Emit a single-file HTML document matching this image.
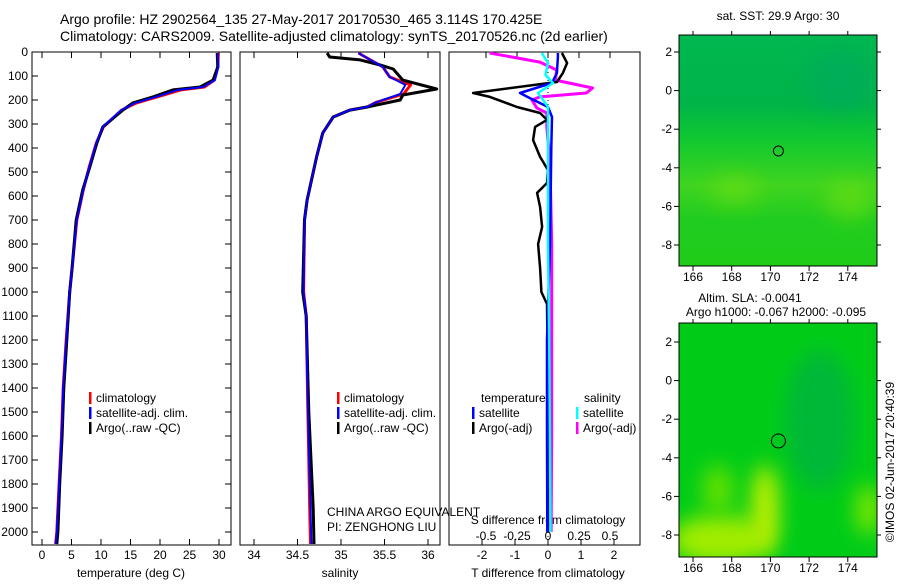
<!DOCTYPE html>
<html><head><meta charset="utf-8"><style>
body{margin:0;background:#fff}
svg text{font-family:"Liberation Sans",sans-serif;font-size:12px;fill:#000}
</style></head><body>
<svg id="c" width="900" height="580" viewBox="0 0 900 580" xmlns="http://www.w3.org/2000/svg">
<defs>
<linearGradient id="sstg" x1="0" y1="0" x2="0" y2="1">
<stop offset="0" stop-color="#00b850"/><stop offset="0.3" stop-color="#00b448"/><stop offset="0.45" stop-color="#10c830"/><stop offset="0.65" stop-color="#40d420"/><stop offset="0.8" stop-color="#20cc20"/><stop offset="1" stop-color="#20cc18"/></linearGradient>
<filter id="bl" x="-100%" y="-100%" width="300%" height="300%"><feGaussianBlur stdDeviation="10"/></filter>
<clipPath id="m1"><rect x="679" y="35" width="198" height="231"/></clipPath>
<clipPath id="m2"><rect x="679" y="323" width="198" height="234"/></clipPath>
</defs>
<text x="60" y="24" style="font-size:14px">Argo profile: HZ 2902564_135 27-May-2017 20170530_465 3.114S 170.425E</text>
<text x="60" y="41" style="font-size:14px">Climatology: CARS2009. Satellite-adjusted climatology: synTS_20170526.nc (2d earlier)</text>
<g id="panels"></g>
<g>
<text x="778" y="20" text-anchor="middle">sat. SST: 29.9 Argo: 30</text>
<g clip-path="url(#m1)">
<rect x="679" y="35" width="198" height="231" fill="url(#sstg)"/>
<ellipse cx="735" cy="190" rx="25" ry="15" fill="#70e010" opacity="0.6" filter="url(#bl)"/>
<ellipse cx="850" cy="200" rx="25" ry="20" fill="#70e010" opacity="0.6" filter="url(#bl)"/>
<ellipse cx="840" cy="80" rx="35" ry="30" fill="#00a860" opacity="0.6" filter="url(#bl)"/>
</g>
<rect x="679" y="35" width="198" height="231" fill="none" stroke="#000"/>
<circle cx="778.4" cy="151" r="5" fill="none" stroke="#000"/>
</g>
<g>
<text x="750" y="302" text-anchor="middle">Altim. SLA: -0.0041</text>
<text x="776" y="316" text-anchor="middle">Argo h1000: -0.067 h2000: -0.095</text>
<g clip-path="url(#m2)">
<rect x="679" y="323" width="198" height="234" fill="#00cc18"/>
<ellipse cx="820" cy="420" rx="35" ry="70" fill="#00b838" filter="url(#bl)"/>
<ellipse cx="720" cy="540" rx="50" ry="25" fill="#a0ec00" filter="url(#bl)"/>
<ellipse cx="765" cy="510" rx="14" ry="45" fill="#c0f000" filter="url(#bl)"/>
<ellipse cx="718" cy="490" rx="16" ry="25" fill="#60e000" filter="url(#bl)"/>
<ellipse cx="868" cy="510" rx="12" ry="25" fill="#80e800" filter="url(#bl)"/>
</g>
<rect x="679" y="323" width="198" height="234" fill="none" stroke="#000"/>
<circle cx="778.4" cy="441" r="7" fill="none" stroke="#000"/>
</g>
<text transform="translate(894,462) rotate(-90)" text-anchor="middle">©IMOS 02-Jun-2017 20:40:39</text>
<text x="327" y="516">CHINA ARGO EQUIVALENT</text>
<text x="327" y="531">PI: ZENGHONG LIU</text>
</svg>
<script>
// ---- data ----
const tempDepth=[4,62,117,146,158,187,212,242,312,379,479,575,700,900,1000,1200,1400,1600,1800,2000,2050];
const tempArgo=[29.7,29.8,29.0,26.8,22.2,18.8,15.4,13.7,10.3,9.3,8.1,6.9,5.8,5.1,4.7,4.2,3.7,3.4,3.0,2.7,2.5];
const tempClim=[29.9,29.8,29.2,27.5,23.5,19.5,16.0,13.5,10.4,9.2,8.0,7.0,5.9,5.1,4.7,4.1,3.6,3.3,2.9,2.5,2.3];
const tempSat=[29.8,29.9,29.3,27.3,23.0,19.3,15.8,13.4,10.3,9.2,8.0,7.0,5.9,5.1,4.7,4.1,3.6,3.3,2.9,2.5,2.3];
const salDepth=[4,21,33,54,71,117,154,179,200,229,242,271,338,437,617,700,1000,1100,1500,1900,2050];
const salArgo=[34.84,34.87,35.22,35.45,35.6,35.71,36.1,35.71,35.68,35.3,35.1,34.91,34.79,34.72,34.61,34.58,34.56,34.6,34.63,34.68,34.69];
const salClimDepth=[4,25,62,104,137,175,210,229,242,271,338,437,617,700,1000,1100,1500,1900,2050];
const salClim=[35.2,35.3,35.48,35.56,35.8,35.72,35.4,35.3,35.1,34.91,34.79,34.72,34.61,34.58,34.57,34.6,34.62,34.64,34.65];
const salSat=[35.2,35.3,35.48,35.56,35.74,35.68,35.4,35.3,35.1,34.91,34.79,34.72,34.61,34.58,34.57,34.6,34.62,34.65,34.66];
const dtDepth=[4,46,87,125,171,187,229,254,283,312,367,437,492,546,587,646,729,800,900,1000,1050,1400,2000];
const dtArgo=[0.42,0.58,0.45,0.27,-2.27,-1.76,-0.94,-0.24,-0.03,-0.39,-0.45,-0.24,0,-0.03,-0.33,-0.24,-0.18,-0.3,-0.24,-0.2,-0.03,0,0];
const dtSatDepth=[4,21,87,129,171,192,229,271,400,800,1200,1600,2000];
const dtSat=[0.3,0.3,0.27,0.12,-0.85,-0.55,0,0.12,0.1,0.06,-0.03,-0.03,-0.02];
const dsDepth=[4,42,75,117,150,171,187,200,233,254,312,463,800,1200,1600,2000];
const dsArgo=[-0.47,-0.065,0.07,0.06,0.36,0.31,-0.065,-0.13,-0.09,-0.01,-0.01,0.016,0.03,0.03,0.03,0.025];
const dsSatDepth=[4,46,96,129,171,229,400,800,1200,1600,2000];
const dsSat=[-0.05,0,-0.02,0.04,-0.08,0,0,0,0.01,0.015,0.02];
const tTicks=[0,5,10,15,20,25,30];
const sTicks=[34,34.5,35,35.5,36];
const dtTicks=[-2,-1,0,1,2];
const dsTicks=[-0.5,-0.25,0,0.25,0.5];
const depthTicks=[0,100,200,300,400,500,600,700,800,900,1000,1100,1200,1300,1400,1500,1600,1700,1800,1900,2000];
// ---- scales ----
const Y=d=>52+d*0.24;
const XT=v=>42+v*5.9;
const XS=v=>254+(v-34)*87;
const XDT=v=>548+v*33;
const XDS=v=>548+v*124;
const NS='http://www.w3.org/2000/svg';
const g=document.getElementById('panels');
function mk(t,a){const e=document.createElementNS(NS,t);for(const k in a)e.setAttribute(k,a[k]);g.appendChild(e);return e;}
function line(xs,ds,fx,col,w,name){
  const p=mk('polyline',{points:xs.map((v,i)=>fx(v).toFixed(1)+','+Y(ds[i]).toFixed(1)).join(' '),fill:'none',stroke:col,'stroke-width':w,'stroke-linejoin':'round'});
  
  
}
function txt(x,y,s,anchor,name){const t=mk('text',{x:x,y:y,'text-anchor':anchor||'start'});t.textContent=s;
  
  return t;}
function box(x0,x1,name){const r=mk('rect',{x:x0,y:52,width:x1-x0,height:493,fill:'none',stroke:'#000'});
  
  }
function xt(ticks,f,y,name){ticks.forEach(v=>{const x=f(v);
  mk('line',{x1:x,x2:x,y1:545,y2:539,stroke:'#000'});mk('line',{x1:x,x2:x,y1:52,y2:58,stroke:'#000'});
  txt(x,y,String(v),'middle',name);});}
box(32,231,'temperature-panel');box(240,440,'salinity-panel');box(449,640,'difference-panel');
depthTicks.forEach(d=>{mk('line',{x1:32,x2:38,y1:Y(d),y2:Y(d),stroke:'#000'});mk('line',{x1:225,x2:231,y1:Y(d),y2:Y(d),stroke:'#000'});txt(28,Y(d)+4,String(d),'end','depth-tick-label');});
xt(tTicks,XT,559,'temperature-tick-label');
xt(sTicks,XS,559,'salinity-tick-label');
dtTicks.forEach(v=>{const x=XDT(v);mk('line',{x1:x,x2:x,y1:545,y2:539,stroke:'#000'});txt(x,559,String(v),'middle','t-diff-tick-label');});
dsTicks.forEach(v=>{const x=XDS(v);mk('line',{x1:x,x2:x,y1:52,y2:58,stroke:'#000'});txt(x,540,String(v),'middle','s-diff-tick-label');});
mk('line',{x1:548,x2:548,y1:52,y2:545,stroke:'#000','stroke-dasharray':'1,3'});
txt(131,577,'temperature (deg C)','middle','temperature-axis-title');
txt(340,577,'salinity','middle','salinity-axis-title');
txt(548,577,'T difference from climatology','middle','t-diff-axis-title');
txt(548,524,'S difference from climatology','middle','s-diff-axis-title');
line(tempClim,tempDepth,XT,'#f00',3,'temperature-climatology');
line(tempArgo,tempDepth,XT,'#000',3,'temperature-argo');
line(tempSat,tempDepth,XT,'#00f',2,'temperature-satellite');
line(salClim,salClimDepth,XS,'#f00',3,'salinity-climatology');
line(salArgo,salDepth,XS,'#000',3,'salinity-argo');
line(salSat,salClimDepth,XS,'#00f',2,'salinity-satellite');
line(dsArgo,dsDepth,XDS,'#f0f',3,'s-diff-argo');
line(dtArgo,dtDepth,XDT,'#000',2.5,'t-diff-argo');
line(dtSat,dtSatDepth,XDT,'#00f',2.5,'t-diff-satellite');
line(dsSat,dsSatDepth,XDS,'#0ff',2.5,'s-diff-satellite');
function leg(x,y,col,label,name){mk('rect',{x:x,y:y-10,width:2.5,height:12,fill:col});txt(x+7,y,label,'start',name);}
leg(89,402,'#f00','climatology','legend-climatology');
leg(89,417,'#00f','satellite-adj. clim.','legend-satellite');
leg(89,432,'#000','Argo(..raw -QC)','legend-argo');
leg(337,402,'#f00','climatology','legend-sal-climatology');
leg(337,417,'#00f','satellite-adj. clim.','legend-sal-satellite');
leg(337,432,'#000','Argo(..raw -QC)','legend-sal-argo');
txt(481,402,'temperature','start','legend-temperature-header');
txt(584,402,'salinity','start','legend-salinity-header');
leg(472,417,'#00f','satellite','legend-t-satellite');
leg(472,432,'#000','Argo(-adj)','legend-t-argo');
leg(576,417,'#0ff','satellite','legend-s-satellite');
leg(576,432,'#f0f','Argo(-adj)','legend-s-argo');
const lonTicks=[166,168,170,172,174];
const latTicks=[2,0,-2,-4,-6,-8];
const LX=v=>693+(v-166)*19.35;
[[35,266,52],[323,557,342]].forEach(([t,b,y2])=>{
  lonTicks.forEach(v=>{const x=LX(v);mk('line',{x1:x,x2:x,y1:b,y2:b+5,stroke:'#000'});mk('line',{x1:x,x2:x,y1:t,y2:t-4,stroke:'#000'});txt(x,b+15,String(v),'middle','map-lon-label');});
  latTicks.forEach(v=>{const y=y2+(2-v)*19.3;mk('line',{x1:674,x2:679,y1:y,y2:y,stroke:'#000'});mk('line',{x1:877,x2:881,y1:y,y2:y,stroke:'#000'});txt(672,y+4,String(v),'end','map-lat-label');});
});
</script>
</body></html>
